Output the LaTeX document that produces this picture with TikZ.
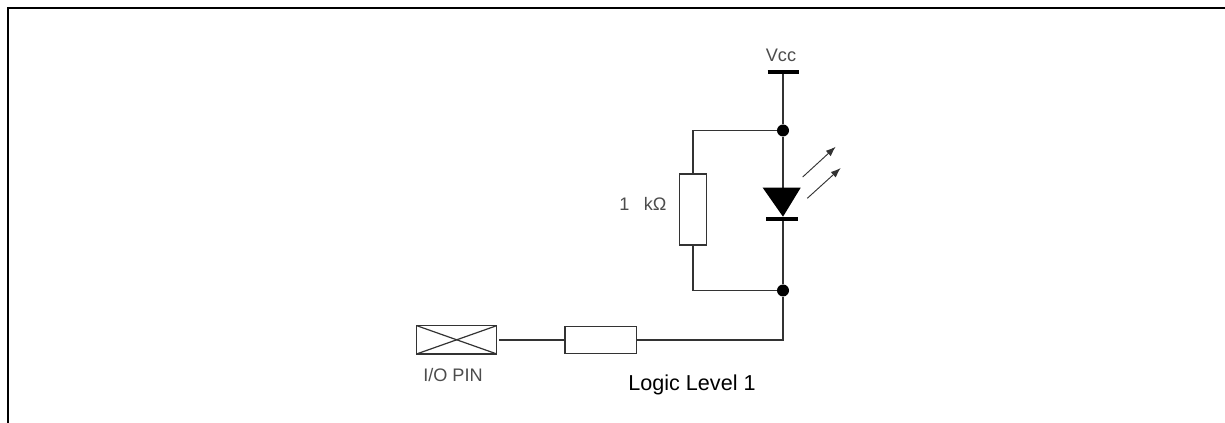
\documentclass[tikz,border=0pt]{standalone}
\usepackage{fontspec}
\setmainfont{Liberation Sans}
\usetikzlibrary{arrows.meta}
\definecolor{wirec}{gray}{0.2}
\definecolor{textc}{gray}{0.3}
\tikzset{
 x=0.75pt,y=-0.75pt,
 wire/.style={draw=wirec,line width=0.9pt},
 box/.style={draw=wirec,line width=0.9pt,fill=white,inner sep=0pt,outer sep=0pt},
 dot/.style={circle,fill=black,inner sep=0pt,minimum size=9pt},
 lab/.style={text=textc,font=\fontsize{13.6pt}{16pt}\selectfont,inner sep=0pt},
 ray/.style={draw=wirec,line width=0.7pt,-{Latex[length=7.5pt,width=5.5pt]}},
 frameline/.style={draw=black,line width=1.7pt},
 bar/.style={draw=black,line width=2.3pt}
}
\begin{document}
\begin{tikzpicture}
\useasboundingbox (0,0) rectangle (1225,423);
\coordinate (fl) at (8,423);
\coordinate (ftl) at (8,8);
\coordinate (ftr) at (1225,8);
\draw[frameline] (fl) -- (ftl) -- (ftr);
% nodes
\coordinate (vcc) at (783,72);
\node[dot] (j1) at (783,130.5) {};
\node[dot] (j2) at (783,290.5) {};
\coordinate (cath) at (783,219);
\coordinate (anode) at (783,188);
\coordinate (vl) at (767.5,72);
\coordinate (vr) at (799,72);
\coordinate (tl) at (762.7,187.7);
\coordinate (tr) at (800.7,187.7);
\coordinate (tip) at (783,216.7);
\coordinate (cl) at (766,219);
\coordinate (cr) at (798,219);
\node[box,minimum width=20.8pt,minimum height=53.25pt] (r1) at (693,209.5) {};
\node[box,minimum width=53.75pt,minimum height=19.75pt] (r2) at (600.8,340) {};
\node[box,minimum width=60pt,minimum height=21.2pt] (pin) at (456.7,339.8) {};
\coordinate (corner) at (783,340);
\coordinate (wstart) at (499.3,340);
\coordinate (tt1) at (693,130.5);
\coordinate (tt2) at (693,290.5);
% wires
\draw[wire] (vcc) -- (j1) -- (anode);
\draw[wire] (cath) -- (j2) -- (corner) -- (r2.east);
\draw[wire] (j1) -- (tt1) -- (r1.north);
\draw[wire] (r1.south) -- (tt2) -- (j2);
\draw[wire] (r2.west) -- (wstart);
\draw[bar] (vl) -- (vr);
\fill[black] (tl) -- (tr) -- (tip) -- cycle;
\draw[bar] (cl) -- (cr);
\draw[wire] (pin.north west) -- (pin.south east);
\draw[wire] (pin.south west) -- (pin.north east);
\coordinate (a1s) at (802.7,177);
\coordinate (a1e) at (835.7,146.7);
\coordinate (a2s) at (807.3,198.3);
\coordinate (a2e) at (840.7,168);
\draw[ray] (a1s) -- (a1e);
\draw[ray] (a2s) -- (a2e);
% labels
\node[lab] (tv) at (781,55) {Vcc};
\node[lab] (tk) at (643,204) {1\hspace{7pt} kΩ};
\node[lab] (tp) at (453,375) {I/O PIN};
\node[inner sep=0pt,text=black,font=\fontsize{16.2pt}{19pt}\selectfont] (tl1) at (692,385) {Logic Level 1};
\end{tikzpicture}
\end{document}
